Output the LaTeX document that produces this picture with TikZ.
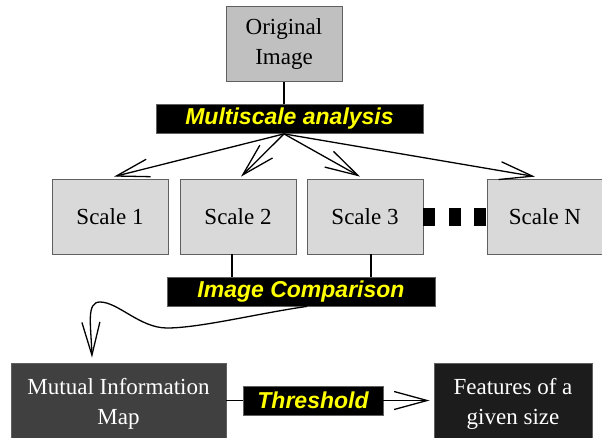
\documentclass[tikz,border=0pt]{standalone}
\usepackage{fontspec}
\setmainfont{Liberation Serif}
\newfontfamily\barfont{Liberation Sans}
\usetikzlibrary{arrows.meta,positioning,calc}
\definecolor{origgray}{HTML}{C0C0C0}
\definecolor{scalegray}{HTML}{D9D9D9}
\definecolor{mapgray}{HTML}{404040}
\definecolor{featgray}{HTML}{1C1C1C}
\definecolor{edgegray}{HTML}{606060}
\definecolor{labelyellow}{HTML}{FFFF00}
\tikzset{
     box/.style={draw=edgegray, line width=0.8pt, inner sep=0pt, minimum width=116pt, minimum height=75pt, align=center, font=\fontsize{23}{30}\selectfont},
     lightbox/.style={box, fill=scalegray, text=black},
     darkbox/.style={box, text=white, minimum height=82pt},
     bar/.style={draw=edgegray, line width=0.8pt, fill=black, text=labelyellow, inner sep=0pt, minimum height=29pt, font=\barfont\bfseries\itshape\fontsize{23}{25}\selectfont},
     link/.style={black, line width=1.3pt},
     flow/.style={link, -{Straight Barb[length=33pt,width=18pt]}},
     gapdots/.style={black, line width=18pt, dash pattern=on 12pt off 13.5pt},
    }

\begin{document}
\begin{tikzpicture}[node distance=75pt, on grid]
            \useasboundingbox (0,0) rectangle (602pt,-437pt);
            \node [box, fill=origgray] (orig) at (284pt,-44pt) {Original\\Image};
            \node [bar, minimum width=267pt] (msa) [below right=75pt and 5.5pt of orig] {Multiscale analysis};
            \node [lightbox] (s1) at (110pt,-216.5pt) {Scale 1};
            \node [lightbox] (s2) [right=128pt of s1] {Scale 2};
            \node [lightbox] (s3) [right=127pt of s2] {Scale 3};
            \node [lightbox] (sN) [right=180pt of s3] {Scale N};
            \node [bar, minimum width=268pt] (ic) [below right=75pt and 63pt of s2] {Image Comparison};
            \node [darkbox, fill=mapgray, minimum width=215pt] (mi) at (118.5pt,-404pt) {Mutual Information\\Map};
            \node [bar, minimum width=140pt] (thr) [above right=3.5pt and 194.5pt of mi] {Threshold};
            \node [darkbox, fill=featgray, minimum width=158pt] (fs) [right=394.5pt of mi] {Features of a\\given size};

            \draw [link] (orig.south) -- (orig.south |- msa.north);
            \coordinate (fan) at (msa.south -| orig.south);
            \foreach \s/\dx in {s1/4pt, s2/3pt, s3/-5pt, sN/-10pt}
              \draw [flow] (fan) -- ([xshift=\dx, yshift=2pt]\s.north);
            \draw [gapdots] (s3.east) -- (sN.west);
            \draw [link] ([xshift=-6pt]s2.south) -- ([xshift=-6pt]s2.south |- ic.north);
            \draw [link] ([xshift=6pt]s3.south) -- ([xshift=6pt]s3.south |- ic.north);
            \draw [flow] ([xshift=6pt]ic.south) .. controls (260pt,-313pt) and (200pt,-328pt) .. (167pt,-328pt)
              .. controls (140pt,-328pt) and (118pt,-302pt) .. (100pt,-302pt)
              .. controls (86pt,-302pt) and (91pt,-325pt) .. ([xshift=-26.5pt, yshift=5pt]mi.north);
            \draw [link] (mi.east |- thr) -- (thr.west);
            \draw [flow, shorten >=4pt] (thr.east) -- (thr.east -| fs.west);
      \end{tikzpicture}
\end{document}
